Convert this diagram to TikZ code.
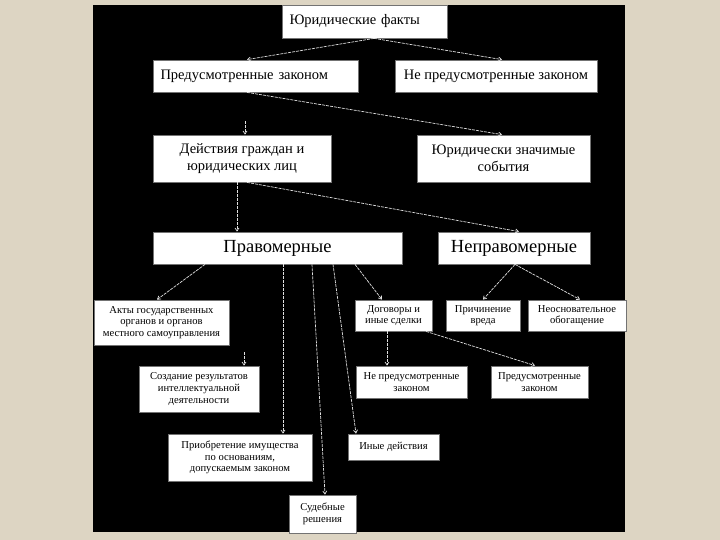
\documentclass[tikz,border=0pt]{standalone}
\usepackage{fontspec}
\setmainfont{Liberation Serif}
\usetikzlibrary{arrows.meta,calc}
\definecolor{bgbeige}{RGB}{221,213,195}
\tikzset{
  box/.style={draw=black!55, fill=white, line width=0.8pt, inner sep=1pt,
    align=center, font=\fontsize{10.6}{11.6}\selectfont},
  bigtext/.style={font=\fontsize{14.5}{17}\selectfont},
  hugetext/.style={font=\fontsize{18.5}{20}\selectfont},
  conn/.style={draw=white!88!black, line width=0.7pt, dash pattern=on 3pt off 1pt,
    -{Straight Barb[length=3pt,width=4pt]}},
}
\begin{document}
\begin{tikzpicture}[x=1pt,y=-1pt]
\fill[bgbeige] (0,0) rectangle (720,540);
\useasboundingbox (0,0) rectangle (720,540);
\fill[black] (93,5) rectangle (625,532);

\node[box, bigtext, minimum width=165, minimum height=33, text width=150, align=left] (fakty) at (364.5,21.5) {Юридические факты};
\node[box, bigtext, minimum width=205, minimum height=32, text width=190, align=left] (pred) at (255.5,76) {Предусмотренные законом};
\node[box, bigtext, minimum width=202, minimum height=32] (nepred) at (496,76) {Не предусмотренные законом};
\node[box, bigtext, minimum width=178, minimum height=47] (deist) at (242,158.5) {Действия граждан и\\юридических лиц};
\node[box, bigtext, minimum width=173, minimum height=47] (sobyt) at (503.5,158.5) {Юридически значимые\\события};
\node[box, hugetext, minimum width=249, minimum height=32] (pravom) at (277.5,248) {Правомерные};
\node[box, hugetext, minimum width=152, minimum height=32] (neprav) at (514,248) {Неправомерные};

\node[box, minimum width=135, minimum height=45] (akty) at (161.5,322.5) {Акты государственных\\органов и органов\\местного самоуправления};
\node[box, minimum width=77, minimum height=31] (dogov) at (393.5,315.5) {Договоры и\\иные сделки};
\node[box, minimum width=74, minimum height=31] (prich) at (483,315.5) {Причинение\\вреда};
\node[box, minimum width=98, minimum height=31] (neosn) at (577,315.5) {Неосновательное\\обогащение};
\node[box, minimum width=120, minimum height=46] (sozd) at (199,389) {Создание результатов\\интеллектуальной\\деятельности};
\node[box, minimum width=111, minimum height=32] (nepredd) at (411.5,382) {Не предусмотренные\\законом};
\node[box, minimum width=97, minimum height=32] (predd) at (539.5,382) {Предусмотренные\\законом};
\node[box, minimum width=144, minimum height=47] (priobr) at (240,457.5) {Приобретение имущества\\по основаниям,\\допускаемым законом};
\node[box, minimum width=91, minimum height=26] (inye) at (393.5,447) {Иные действия};
\node[box, minimum width=67, minimum height=38] (sud) at (322.5,514) {Судебные\\решения};

\coordinate (stubA) at (245,121);
\coordinate (stubB) at (244,352);

\draw[conn] ([xshift=9.5]fakty.south) -- ([xshift=-8.5]pred.north);
\draw[conn] ([xshift=9.5]fakty.south) -- ([xshift=6]nepred.north);
\draw[conn] ([xshift=-8.5]pred.south) -- ([xshift=-1.5]sobyt.north);
\draw[conn] (stubA) -- ([xshift=3]deist.north);
\draw[conn] ([xshift=-5]deist.south) -- ([xshift=-40.5]pravom.north);
\draw[conn] ([xshift=5]deist.south) -- ([xshift=5]neprav.north);
\draw[conn] ([xshift=-72.5]pravom.south) -- ([xshift=-4.5]akty.north);
\draw[conn] (stubB) -- ([xshift=45]sozd.north);
\draw[conn] ([xshift=5.5]pravom.south) -- ([xshift=43]priobr.north);
\draw[conn] ([xshift=34.5]pravom.south) -- ([xshift=2.5]sud.north);
\draw[conn] ([xshift=55.5]pravom.south) -- ([xshift=-37.5]inye.north);
\draw[conn] ([xshift=77.5]pravom.south) -- ([xshift=-11.5]dogov.north);
\draw[conn] ([xshift=1]neprav.south) -- (prich.north);
\draw[conn] ([xshift=1]neprav.south) -- ([xshift=3]neosn.north);
\draw[conn] ([xshift=-6.5]dogov.south) -- ([xshift=-24.5]nepredd.north);
\draw[conn] ([xshift=32.5]dogov.south) -- ([xshift=-4.5]predd.north);
\end{tikzpicture}
\end{document}
